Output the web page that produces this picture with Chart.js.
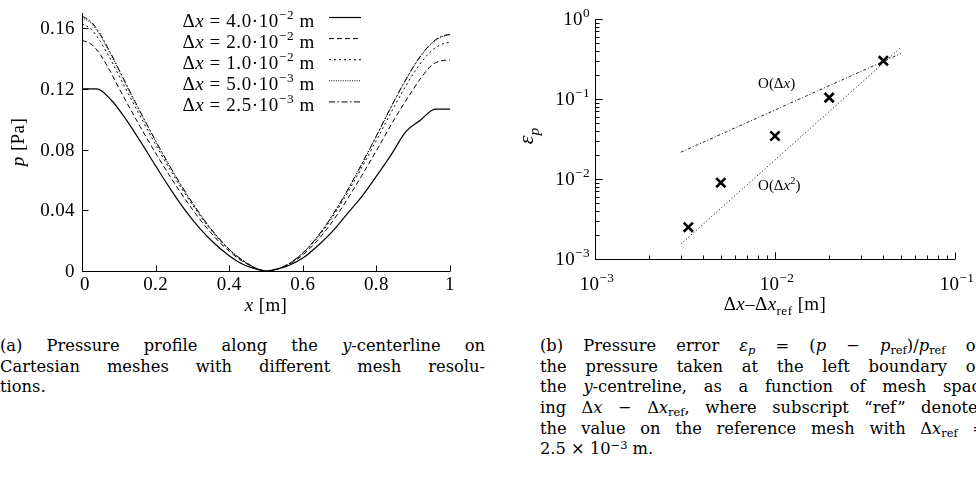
<!DOCTYPE html>
<html><head><meta charset="utf-8">
<script src="https://cdn.jsdelivr.net/npm/chart.js@4"></script>
<style>
html,body{margin:0;padding:0;background:#fff;width:976px;height:479px;overflow:hidden;position:relative;}
#c1{position:absolute;left:0;top:0;}
#c2{position:absolute;left:490px;top:0;}
.cap{position:absolute;font-family:"DejaVu Serif",serif;font-size:16.3px;line-height:20.7px;color:#000;}
.cap .l{white-space:nowrap;height:20.7px;}
.cap .j{text-align:justify;text-align-last:justify;white-space:normal;}
.cap sub,.cap sup{font-size:0.7em;vertical-align:baseline;position:relative;line-height:0;}
.cap sub{top:0.28em;}
.cap sup{top:-0.45em;}
</style></head>
<body>
<canvas id="c1" width="490" height="320"></canvas>
<canvas id="c2" width="486" height="320"></canvas>
<div class="cap" style="left:0;top:336px;width:485px;">
<div class="l j">(a) Pressure profile along the <i>y</i>-centerline on</div>
<div class="l j">Cartesian meshes with different mesh resolu-</div>
<div class="l">tions.</div>
</div>
<div class="cap" style="left:540px;top:336px;width:446px;">
<div class="l j">(b) Pressure error <i>ε<sub>p</sub></i> = (<i>p</i> − <i>p</i><sub>ref</sub>)/<i>p</i><sub>ref</sub> on</div>
<div class="l j">the pressure taken at the left boundary on</div>
<div class="l j">the <i>y</i>-centreline, as a function of mesh spac-</div>
<div class="l j">ing Δ<i>x</i> − Δ<i>x</i><sub>ref</sub>, where subscript “ref” denotes</div>
<div class="l j">the value on the reference mesh with Δ<i>x</i><sub>ref</sub> =</div>
<div class="l">2.5 × 10<sup>−3</sup> m.</div>
</div>
<script>
// ---------- data: panel (a) ----------
const xGrid = [0,0.025,0.05,0.075,0.1,0.15,0.2,0.25,0.3,0.35,0.4,0.45,0.5,0.55,0.6,0.65,0.7,0.75,0.8,0.85,0.9,0.925,0.95,0.975,1];
const p25e3 = [0.168,0.1642,0.1559,0.1449,0.1329,0.1089,0.0859,0.0644,0.0449,0.0279,0.0144,0.0049,0,0.0032,0.0119,0.0259,0.0443,0.0659,0.0891,0.1129,0.1345,0.1434,0.1502,0.1545,0.156];
const p5e3  = [0.167,0.1632,0.155,0.144,0.1321,0.1083,0.0854,0.064,0.0446,0.0277,0.0143,0.0049,0,0.0032,0.0119,0.0258,0.0442,0.0657,0.0888,0.1126,0.1341,0.143,0.1498,0.154,0.1556];
const p1e2  = [0.163,0.1593,0.1512,0.1406,0.1289,0.1057,0.0833,0.0625,0.0436,0.0271,0.014,0.0048,0,0.0031,0.0115,0.025,0.0428,0.0637,0.0861,0.1091,0.1299,0.1385,0.1451,0.1492,0.1508];
const p2e2  = [0.152,0.1495,0.1425,0.1323,0.1207,0.0986,0.0777,0.0583,0.0406,0.0252,0.013,0.0044,0,0.0028,0.0106,0.023,0.0394,0.0587,0.0793,0.1005,0.1197,0.1285,0.1355,0.1385,0.139];
const xCoarse = [0,0.04,0.08,0.12,0.16,0.2,0.24,0.28,0.32,0.36,0.4,0.44,0.48,0.5,0.52,0.56,0.6,0.64,0.68,0.72,0.76,0.8,0.84,0.88,0.92,0.96,1];
const p4e2  = [0.12,0.12,0.1125,0.0997,0.0849,0.0693,0.0541,0.0401,0.0281,0.0181,0.0101,0.0041,0.0009,0,0.0008,0.0035,0.0085,0.0165,0.026,0.0375,0.049,0.0625,0.0765,0.0918,0.0995,0.1067,0.1067];
const legendA = ['Δ<i>x</i> = 4.0·10<sup>−2</sup> m','Δ<i>x</i> = 2.0·10<sup>−2</sup> m','Δ<i>x</i> = 1.0·10<sup>−2</sup> m','Δ<i>x</i> = 5.0·10<sup>−3</sup> m','Δ<i>x</i> = 2.5·10<sup>−3</sup> m'];
const xTicksA = [0,0.2,0.4,0.6,0.8,1];
const xTickLabelsA = ['0','0.2','0.4','0.6','0.8','1'];
const yTicksA = [0,0.04,0.08,0.12,0.16];
const yTickLabelsA = ['0','0.04','0.08','0.12','0.16'];

// ---------- data: panel (b) ----------
const dxDiff = [0.0033,0.005,0.01,0.02,0.04];
const epsP   = [0.0025,0.009,0.0345,0.104,0.30];
const order1X = [0.003,0.05], order1Y = [0.0216,0.37];
const order2X = [0.003,0.05], order2Y = [0.00154,0.44];
const orderLabels = ['O(Δ<i>x</i>)','O(Δ<i>x</i><sup>2</sup>)'];
const orderLabelX = [0.00805,0.00805], orderLabelY = [0.158,0.0084];
const xTicksB = [0.001,0.01,0.1];
const xTickLabelsB = ['10<sup>−3</sup>','10<sup>−2</sup>','10<sup>−1</sup>'];
const yTicksB = [0.001,0.01,0.1,1];
const yTickLabelsB = ['10<sup>−3</sup>','10<sup>−2</sup>','10<sup>−1</sup>','10<sup>0</sup>'];

// ---------- rich text helpers ----------
const FF = '"Liberation Serif", "Times New Roman", serif';
let LS = 0;
function parseRich(s){const out=[];const re=/<(i|sup|sub|isub)>(.*?)<\/\1>/g;let last=0,m;
  while((m=re.exec(s))){if(m.index>last)out.push({t:s.slice(last,m.index),k:''});out.push({t:m[2],k:m[1]});last=re.lastIndex;}
  if(last<s.length)out.push({t:s.slice(last),k:''});return out;}
function fnt(k,size){const it=(k==='i'||k==='isub')?'italic ':'';const sz=(k==='sup'||k==='sub'||k==='isub')?size*0.7:size;return it+sz+'px '+FF;}
function off(k,size){return k==='sup'?-size*0.42:((k==='sub'||k==='isub')?size*0.25:0);}
function setF(ctx,k,size){ctx.font=fnt(k,size);try{ctx.letterSpacing=LS+'px';}catch(e){}}
function richWidth(ctx,s,size){let w=0;for(const g of parseRich(s)){setF(ctx,g.k,size);w+=ctx.measureText(g.t).width;}return w;}
function drawRich(ctx,s,x,y,size,align){const w=richWidth(ctx,s,size);let cx=align==='center'?x-w/2:(align==='right'?x-w:x);
  ctx.textBaseline='alphabetic';ctx.textAlign='left';
  for(const g of parseRich(s)){setF(ctx,g.k,size);ctx.fillText(g.t,cx,y+off(g.k,size));cx+=ctx.measureText(g.t).width;}}

function pts(xs,ys){return xs.map((x,i)=>({x:x,y:ys[i]}));}

// ---------- panel (a) ----------
const stylesA = [
  {dash:[],w:1.2},
  {dash:[5,3],w:1},
  {dash:[2,3],w:1},
  {dash:[1,1.3],w:1},
  {dash:[6,2.5,1.5,2.5],w:1}
];
const seriesA = [pts(xCoarse,p4e2),pts(xGrid,p2e2),pts(xGrid,p1e2),pts(xGrid,p5e3),pts(xGrid,p25e3)];

const axesA = {id:'axesA',afterDraw(chart){
  const ctx=chart.ctx,a=chart.chartArea,sx=chart.scales.x,sy=chart.scales.y;
  ctx.save();ctx.strokeStyle='#000';ctx.fillStyle='#000';ctx.lineWidth=1;
  const L=Math.round(a.left)+0.5,B=Math.round(a.bottom)+0.5;
  ctx.beginPath();ctx.moveTo(L,a.top);ctx.lineTo(L,B);ctx.lineTo(a.right,B);ctx.stroke();
  ctx.beginPath();
  xTicksA.forEach(v=>{const px=Math.round(sx.getPixelForValue(v))+0.5;ctx.moveTo(px,B);ctx.lineTo(px,B-6);});
  yTicksA.forEach(v=>{const py=Math.round(sy.getPixelForValue(v))+0.5;ctx.moveTo(L,py);ctx.lineTo(L+6,py);});
  ctx.stroke();
  LS=0.4;
  xTicksA.forEach((v,i)=>drawRich(ctx,xTickLabelsA[i],sx.getPixelForValue(v)+(i===0?3:0),290,19,'center'));
  yTicksA.forEach((v,i)=>drawRich(ctx,yTickLabelsA[i],75,sy.getPixelForValue(v)+6,19,'right'));
  drawRich(ctx,'<i>x</i> [m]',(a.left+a.right)/2,311,19,'center');
  ctx.save();ctx.translate(24,(a.top+a.bottom)/2);ctx.rotate(-Math.PI/2);
  drawRich(ctx,'<i>p</i> [Pa]',0,0,19,'center');ctx.restore();
  // legend
  LS=0.6;
  chart.data.datasets.forEach((ds,i)=>{
    const ly=17.5+21.1*i;
    drawRich(ctx,legendA[i],315,ly+9.5,19,'right');
    ctx.beginPath();ctx.setLineDash(ds.borderDash||[]);ctx.lineWidth=ds.borderWidth;
    ctx.moveTo(329,ly);ctx.lineTo(361,ly);ctx.stroke();ctx.setLineDash([]);
  });
  LS=0;
  ctx.restore();
}};

new Chart(document.getElementById('c1'),{
  type:'line',
  data:{datasets:seriesA.map((d,i)=>({label:legendA[i],data:d,borderColor:'#000',borderWidth:stylesA[i].w,borderDash:stylesA[i].dash,pointRadius:0,cubicInterpolationMode:'monotone',fill:false}))},
  options:{responsive:false,animation:false,devicePixelRatio:1,
    layout:{padding:{left:82,right:40,top:13,bottom:49}},
    plugins:{legend:{display:false},tooltip:{enabled:false}},
    scales:{x:{type:'linear',min:0,max:1,display:false},y:{type:'linear',min:0,max:0.17,display:false}}},
  plugins:[axesA]
});

// ---------- panel (b) ----------
const axesB = {id:'axesB',afterDraw(chart){
  const ctx=chart.ctx,a=chart.chartArea,sx=chart.scales.x,sy=chart.scales.y;
  ctx.save();ctx.strokeStyle='#000';ctx.fillStyle='#000';ctx.lineWidth=1;
  const L=Math.round(a.left)+0.5,B=Math.round(a.bottom)+0.5;
  ctx.beginPath();ctx.moveTo(L,a.top);ctx.lineTo(L,B);ctx.lineTo(a.right,B);ctx.stroke();
  ctx.beginPath();
  for(let d=-3;d<-1;d++){for(let k=1;k<=10;k++){const v=k*Math.pow(10,d);const px=Math.round(sx.getPixelForValue(v))+0.5;const len=(k===1||k===10)?7:4;ctx.moveTo(px,B);ctx.lineTo(px,B-len);}}
  for(let d=-3;d<0;d++){for(let k=1;k<=10;k++){const v=k*Math.pow(10,d);const py=Math.round(sy.getPixelForValue(v))+0.5;const len=(k===1||k===10)?7:4;ctx.moveTo(L,py);ctx.lineTo(L+len,py);}}
  ctx.stroke();
  LS=0.4;
  xTicksB.forEach((v,i)=>drawRich(ctx,xTickLabelsB[i],sx.getPixelForValue(v)+2,290,19,'center'));
  yTicksB.forEach((v,i)=>drawRich(ctx,yTickLabelsB[i],100,sy.getPixelForValue(v)+6,19,'right'));
  drawRich(ctx,'Δ<i>x</i>–Δ<i>x</i><sub>ref</sub> [m]',(a.left+a.right)/2,310,19,'center');
  LS=0;
  ctx.save();ctx.translate(43,136);ctx.rotate(-Math.PI/2);
  drawRich(ctx,'<i>ε</i><isub>p</isub>',0,0,22,'center');ctx.restore();
  orderLabels.forEach((s,i)=>drawRich(ctx,s,sx.getPixelForValue(orderLabelX[i]),sy.getPixelForValue(orderLabelY[i])+5,15,'left'));
  ctx.restore();
}};

new Chart(document.getElementById('c2'),{
  type:'scatter',
  data:{datasets:[
    {label:'O(Δx)',type:'line',data:pts(order1X,order1Y),borderColor:'#222',borderWidth:1,borderDash:[3,2,1,2],pointRadius:0,fill:false},
    {label:'O(Δx²)',type:'line',data:pts(order2X,order2Y),borderColor:'#222',borderWidth:1,borderDash:[1.2,2.2],pointRadius:0,fill:false},
    {label:'ε_p',data:pts(dxDiff,epsP),pointStyle:'crossRot',pointRadius:6.5,borderWidth:2.6,borderColor:'#000',backgroundColor:'#000',showLine:false}
  ]},
  options:{responsive:false,animation:false,devicePixelRatio:1,
    layout:{padding:{left:105,right:21,top:19,bottom:61}},
    plugins:{legend:{display:false},tooltip:{enabled:false}},
    scales:{x:{type:'logarithmic',min:0.001,max:0.1,display:false},y:{type:'logarithmic',min:0.001,max:1,display:false}}},
  plugins:[axesB]
});
</script>
</body></html>
